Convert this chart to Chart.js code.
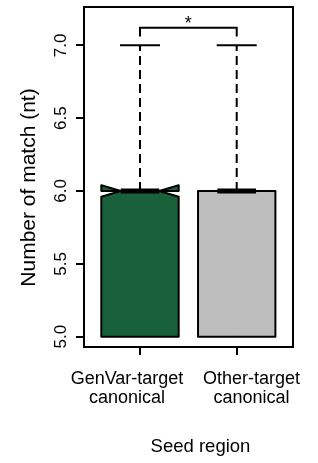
<!DOCTYPE html>
<html><head><meta charset="utf-8">
<script src="https://cdn.jsdelivr.net/npm/chart.js@4.4.0/dist/chart.umd.min.js"></script>
<style>html,body{margin:0;padding:0;background:#fff;overflow:hidden}</style>
</head><body>
<div style="width:318px;height:463px"><canvas id="c" width="318" height="463"></canvas></div>
<script>
// ---- data ----
const categories = [['GenVar-target', 'canonical'], ['Other-target', 'canonical']];
const lowerWhisker = [5.0, 5.0];
const lowerHinge = [5.0, 5.0];
const medians = [6.0, 6.0];
const upperHinge = [6.0, 6.0];
const upperWhisker = [7.0, 7.0];
const notchHalf = [0.04, 0.0];
const yTicks = [5.0, 5.5, 6.0, 6.5, 7.0];
const sigPair = [1, 2];
const sigLabel = '*';
const sigBracketY = 7.12;
const sigLegY = 7.06;
const yTitle = 'Number of match (nt)';
const xTitle = 'Seed region';

// ---- styles ----
const boxColors = ['#19613a', '#bebebe'];
const boxHalf = 0.4, notchInner = 0.2, capHalf = 0.207;
const FONT = '"Liberation Sans", Arial, Helvetica, sans-serif';

const datasets = [];
categories.forEach((c, i) => {
  datasets.push({ data: [{x: i + 1, y: upperHinge[i]}, {x: i + 1, y: upperWhisker[i]}], borderDash: [9, 5] });
  datasets.push({ data: [{x: i + 1, y: lowerHinge[i]}, {x: i + 1, y: lowerWhisker[i]}], borderDash: [9, 5] });
  datasets.push({ data: [{x: i + 1 - capHalf, y: upperWhisker[i]}, {x: i + 1 + capHalf, y: upperWhisker[i]}] });
});
datasets.push({ data: [
  {x: sigPair[0], y: sigLegY}, {x: sigPair[0], y: sigBracketY},
  {x: sigPair[1], y: sigBracketY}, {x: sigPair[1], y: sigLegY}] });
datasets.forEach(d => Object.assign(d, {
  showLine: true, pointRadius: 0, borderColor: '#000', borderWidth: 2,
  fill: false, tension: 0, borderCapStyle: 'butt', borderJoinStyle: 'miter'
}));

const boxPlugin = {
  id: 'boxes',
  beforeDatasetsDraw(chart) {
    const {ctx, scales: {x, y}} = chart;
    ctx.save();
    categories.forEach((c, i) => {
      const cx = i + 1;
      const L = x.getPixelForValue(cx - boxHalf), R = x.getPixelForValue(cx + boxHalf);
      const IL = x.getPixelForValue(cx - notchInner), IR = x.getPixelForValue(cx + notchInner);
      const q1 = y.getPixelForValue(lowerHinge[i]), q3 = y.getPixelForValue(upperHinge[i]);
      const m = y.getPixelForValue(medians[i]);
      const nl = y.getPixelForValue(medians[i] - notchHalf[i]);
      const nh = y.getPixelForValue(medians[i] + notchHalf[i]);
      ctx.beginPath();
      ctx.moveTo(L, q1); ctx.lineTo(L, nl); ctx.lineTo(IL, m); ctx.lineTo(L, nh); ctx.lineTo(L, q3);
      ctx.lineTo(R, q3); ctx.lineTo(R, nh); ctx.lineTo(IR, m); ctx.lineTo(R, nl); ctx.lineTo(R, q1);
      ctx.closePath();
      ctx.fillStyle = boxColors[i];
      ctx.fill('nonzero');
      ctx.lineWidth = 2; ctx.lineJoin = 'round'; ctx.strokeStyle = '#000';
      ctx.stroke();
      ctx.beginPath();
      ctx.lineCap = 'butt'; ctx.lineWidth = 5;
      ctx.moveTo(IL, m); ctx.lineTo(IR, m); ctx.stroke();
    });
    ctx.restore();
  },
  afterDraw(chart) {
    const {ctx, chartArea: a, scales: {x, y}} = chart;
    ctx.save();
    ctx.strokeStyle = '#000'; ctx.lineWidth = 2;
    ctx.strokeRect(a.left, a.top, a.right - a.left, a.bottom - a.top);
    ctx.fillStyle = '#000';
    // y tick labels (rotated)
    ctx.font = '17px ' + FONT;
    ctx.textAlign = 'center'; ctx.textBaseline = 'alphabetic';
    yTicks.forEach(v => {
      ctx.save();
      ctx.translate(65.5, y.getPixelForValue(v));
      ctx.rotate(-Math.PI / 2);
      ctx.fillText(v.toFixed(1), 0, 0);
      ctx.restore();
    });
    // y title
    ctx.save();
    ctx.font = '21px ' + FONT;
    ctx.translate(35, 187.5);
    ctx.rotate(-Math.PI / 2);
    ctx.fillText(yTitle, 0, 0);
    ctx.restore();
    // x category labels
    ctx.font = '18px ' + FONT;
    const labelX = [127, 251.5];
    categories.forEach((lines, i) => {
      lines.forEach((t, j) => ctx.fillText(t, labelX[i], 384 + j * 19));
    });
    // x title
    ctx.font = '18.5px ' + FONT;
    ctx.fillText(xTitle, 200.5, 451.5);
    // significance star
    ctx.font = '18px ' + FONT;
    const sx = (x.getPixelForValue(sigPair[0]) + x.getPixelForValue(sigPair[1])) / 2;
    ctx.fillText(sigLabel, sx, y.getPixelForValue(sigBracketY) + 1.5);
    ctx.restore();
  }
};

new Chart(document.getElementById('c'), {
  type: 'scatter',
  data: { datasets },
  options: {
    responsive: false, animation: false,
    layout: { padding: { top: 7, right: 25, left: 0, bottom: 0 } },
    plugins: { legend: { display: false }, tooltip: { enabled: false } },
    scales: {
      x: {
        type: 'linear', min: 0.421, max: 2.582,
        afterBuildTicks: s => { s.ticks = categories.map((c, i) => ({ value: i + 1 })); },
        ticks: { display: false },
        grid: { drawOnChartArea: false, drawTicks: true, tickLength: 8, color: '#000', lineWidth: 2 },
        border: { display: false },
        afterFit: s => { s.height = 116; }
      },
      y: {
        type: 'linear', min: 4.929, max: 7.263,
        afterBuildTicks: s => { s.ticks = yTicks.map(v => ({ value: v })); },
        ticks: { display: false },
        grid: { drawOnChartArea: false, drawTicks: true, tickLength: 8, color: '#000', lineWidth: 2 },
        border: { display: false },
        afterFit: s => { s.width = 84; }
      }
    }
  },
  plugins: [boxPlugin]
});
</script>
</body></html>
